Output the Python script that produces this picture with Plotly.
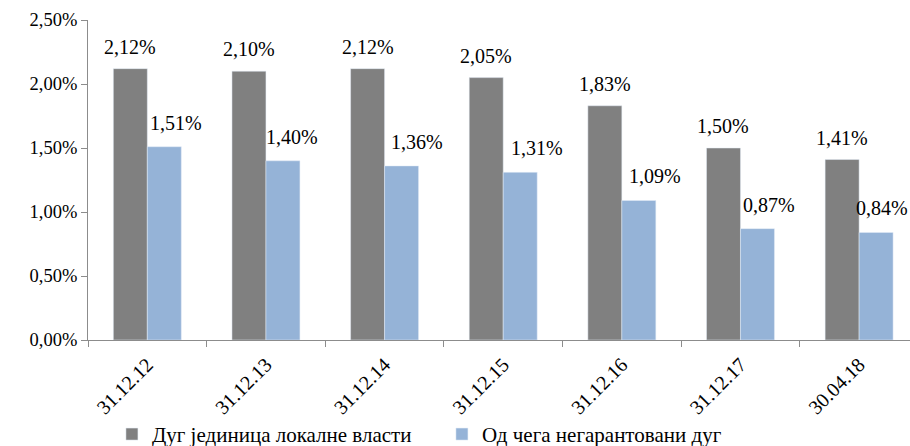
import plotly.graph_objects as go

categories = ["31.12.12", "31.12.13", "31.12.14", "31.12.15", "31.12.16", "31.12.17", "30.04.18"]
debt_total = [2.12, 2.10, 2.12, 2.05, 1.83, 1.50, 1.41]
debt_unguaranteed = [1.51, 1.40, 1.36, 1.31, 1.09, 0.87, 0.84]
series_names = ["Дуг јединица локалне власти", "Од чега негарантовани дуг"]
y_ticks = [0, 0.5, 1.0, 1.5, 2.0, 2.5]

# label horizontal offsets (px) for the second series, as placed in the original
blue_label_dx = [12, 9, 15, 17, 16, 12, 6]

GREY = "#808080"
BLUE = "#95B3D7"
FONT = "'Liberation Serif', 'Times New Roman', Times, serif"

def fmt(v):
    return f"{v:.2f}".replace(".", ",") + "%"

fig = go.Figure()
fig.add_trace(go.Bar(x=categories, y=debt_total, name=series_names[0], marker_color=GREY,
                     offsetgroup="a"))
fig.add_trace(go.Bar(x=categories, y=debt_unguaranteed, name=series_names[1], marker_color=BLUE,
                     offsetgroup="b"))

annotations = []
for cat, v in zip(categories, debt_total):
    annotations.append(dict(x=cat, y=v, text=fmt(v), showarrow=False, xshift=-17, yshift=22,
                            xanchor="center", yanchor="middle", font=dict(family=FONT, size=20, color="#000")))
for cat, v, dx in zip(categories, debt_unguaranteed, blue_label_dx):
    annotations.append(dict(x=cat, y=v, text=fmt(v), showarrow=False, xshift=17 + dx, yshift=24,
                            xanchor="center", yanchor="middle", font=dict(family=FONT, size=20, color="#000")))

fig.update_layout(
    width=910, height=446,
    margin=dict(l=88, r=0, t=20, b=106, autoexpand=False),
    plot_bgcolor="white", paper_bgcolor="white",
    barmode="group", bargap=0.427, bargroupgap=0,
    font=dict(family=FONT, size=20, color="#000"),
    showlegend=True,
    legend=dict(orientation="h", xref="container", yref="container", x=0.123, y=0.026,
                xanchor="left", yanchor="middle",
                font=dict(family=FONT, size=21, color="#000"), entrywidth=285, entrywidthmode="pixels",
                itemwidth=30, bgcolor="rgba(0,0,0,0)"),
    annotations=annotations,
    xaxis=dict(range=[-0.5, 6.429], tickangle=-45, showline=True, linecolor="#8c8c8c", linewidth=1,
               ticks="outside", tickson="boundaries", ticklen=6, tickcolor="#8c8c8c",
               ticklabelstandoff=4,
               showgrid=False, automargin=False, tickfont=dict(family=FONT, size=20)),
    yaxis=dict(range=[0, 2.5], tickvals=y_ticks, ticktext=[fmt(t) for t in y_ticks],
               showline=True, linecolor="#8c8c8c", linewidth=1, ticks="outside", ticklen=6,
               tickcolor="#8c8c8c", showgrid=False, zeroline=False, automargin=False,
               tickfont=dict(family=FONT, size=18.5)),
)

fig.write_html("out.html", config={"displayModeBar": False},
               post_script="document.body.style.margin='0px';")
